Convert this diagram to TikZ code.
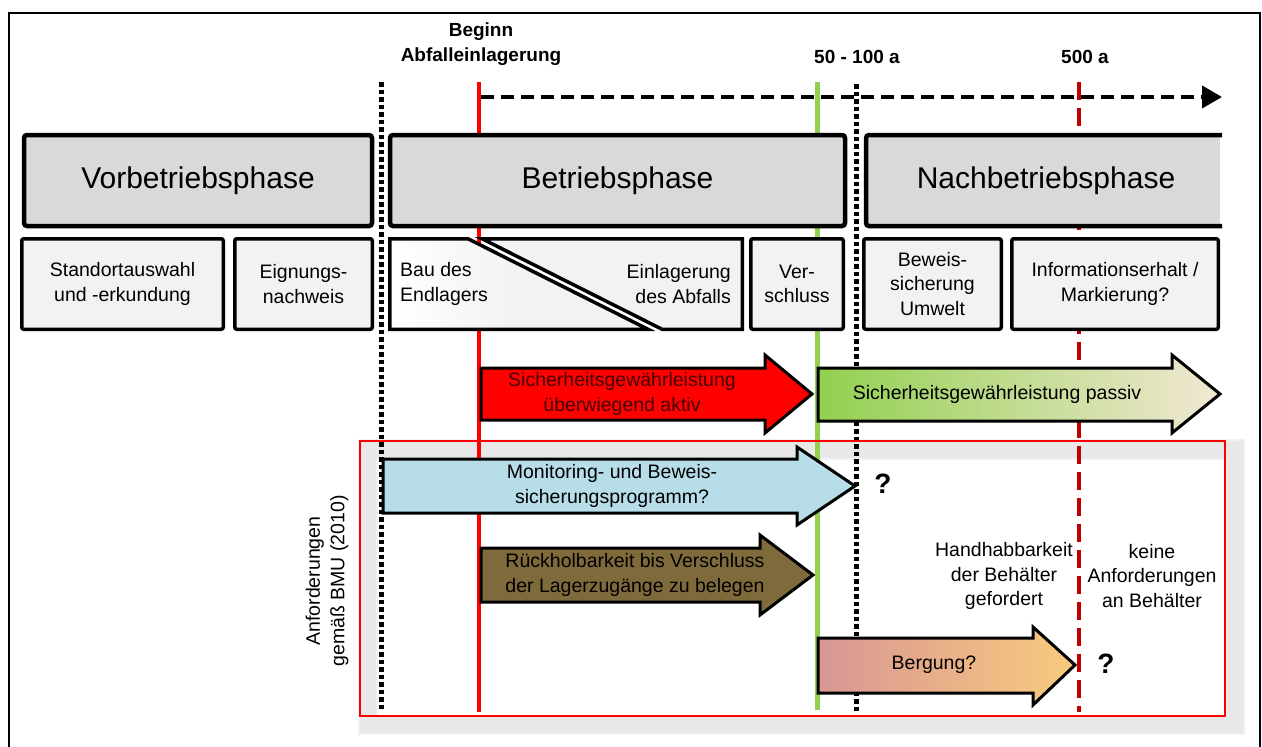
\documentclass[tikz,border=0pt]{standalone}
\usepackage{fontspec}
\setmainfont{Liberation Sans}
\usetikzlibrary{arrows.meta}
\definecolor{phasegray}{RGB}{217,217,217}
\definecolor{subgray}{RGB}{242,242,242}
\definecolor{vgreen}{RGB}{146,208,80}
\definecolor{dred}{RGB}{192,0,0}
\definecolor{cream}{RGB}{242,232,212}
\definecolor{lblue}{RGB}{183,221,232}
\definecolor{olivebrown}{RGB}{127,106,59}
\definecolor{pinkish}{RGB}{217,150,148}
\definecolor{lorange}{RGB}{248,203,125}
\definecolor{shadowgray}{RGB}{232,232,232}
\definecolor{redtext}{RGB}{70,0,0}
\newcommand\fsz[2]{\fontsize{#1}{#2}\selectfont}
\begin{document}
\begin{tikzpicture}[x=1pt,y=-1pt,
  phasebox/.style={draw=black, line width=4.5pt, fill=phasegray, rounded corners=3pt, inner sep=0pt, font=\fsz{30}{36}},
  subbox/.style={draw=black, line width=3.5pt, fill=subgray, rounded corners=2pt, inner sep=0pt, align=center, font=\fsz{19.5}{24.5}},
  bodytext/.style={font=\fsz{19.5}{24.5}, align=center, inner sep=0pt},
  marktext/.style={font=\bfseries\fsz{19}{25}, align=center, inner sep=0pt},
  qmark/.style={font=\bfseries\fsz{28}{30}, inner sep=0pt},
  blockarrow/.style={draw=black, line width=3pt, line join=miter},
  dotline/.style={line width=5pt, dash pattern=on 4.5pt off 3pt},
  redline/.style={red, line width=4pt},
  greenline/.style={vgreen, line width=5pt},
  dredline/.style={dred, line width=4pt, dash pattern=on 18pt off 8pt},
  timeline/.style={line width=4pt, dash pattern=on 13pt off 7pt, -{Triangle[length=20pt,width=22pt]}}
]
\useasboundingbox (0,0) rectangle (1262,747);
% outer frame
\coordinate (fbl) at (9,747);
\coordinate (ftl) at (9,13);
\coordinate (ftr) at (1260,13);
\coordinate (fbr) at (1260,747);
\draw[line width=1.6pt] (fbl) -- (ftl) -- (ftr) -- (fbr);

% soft shadow region
\fill[shadowgray!60] (358,439) rectangle (1245,735);
\fill[shadowgray] (360,441) rectangle (1243,733);
\fill[shadowgray!60] (376,458) rectangle (1227,717);
\fill[white] (378,460) rectangle (1225,715);

% vertical markers
\coordinate (d1t) at (381,82);  \coordinate (d1b) at (381,712);
\coordinate (r1t) at (479,82);  \coordinate (r1b) at (479,712);
\coordinate (g1t) at (817,82);  \coordinate (g1b) at (817,710);
\coordinate (d2t) at (856,84);  \coordinate (d2b) at (856,712);
\coordinate (k1t) at (1079,82); \coordinate (k1b) at (1079,712);
\draw[dotline] (d1t) -- (d1b);
\draw[redline] (r1t) -- (r1b);
\draw[greenline] (g1t) -- (g1b);
\draw[dotline] (d2t) -- (d2b);
\draw[dredline] (k1t) -- (k1b);

% time arrow
\coordinate (tstart) at (481,97);
\coordinate (tend) at (1222,97);
\draw[timeline] (tstart) -- (tend);

% labels
\node[marktext] (beginn) at (481,44.5) {Beginn\\Abfalleinlagerung};
\node[marktext] (t50) at (857,57) {50 - 100 a};
\node[marktext] (t500) at (1085,57) {500 a};

% red frame
\draw[red, line width=1.5pt] (360,441) rectangle (1225,716);

% phase boxes
\node[phasebox, minimum width=348pt, minimum height=91pt] (vor) at (198,180.5) {Vorbetriebsphase};
\node[phasebox, minimum width=455pt, minimum height=91pt] (betr) at (617.5,180.5) {Betriebsphase};
\fill[phasegray] (866,135) rectangle (1220,226);
\draw[line width=4.5pt, rounded corners=3pt] (1222,135) -- (866,135) -- (866,226) -- (1222,226);
\node[font=\fsz{30}{36}, inner sep=0pt] (nach) at (1046,180.5) {Nachbetriebsphase};

% sub boxes
\node[subbox, minimum width=201.5pt, minimum height=90.5pt] (stand) at (122.5,284) {Standortauswahl\\und -erkundung};
\node[subbox, minimum width=137.5pt, minimum height=90.5pt] (eign) at (303.5,284) {Eignungs-\\nachweis};
\draw[line width=3.5pt, line join=miter, left color=white, right color=subgray, middle color=subgray] (389.75,238.75) -- (468,238.75) -- (648,329.25) -- (389.75,329.25) -- cycle;
\draw[line width=3.5pt, line join=miter, fill=subgray] (482,238.75) -- (742.25,238.75) -- (742.25,329.25) -- (662,329.25) -- cycle;
\node[bodytext, anchor=west, align=left] (bau) at (400,284) {Bau des\\Endlagers};
\node[bodytext, anchor=east, align=right] (einl) at (731,284) {Einlagerung\\des Abfalls};
\node[subbox, minimum width=92.5pt, minimum height=90.5pt] (vers) at (797,284) {Ver-\\schluss};
\node[subbox, minimum width=137.5pt, minimum height=90.5pt] (bew) at (932.5,284) {Beweis-\\sicherung\\Umwelt};
\node[subbox, minimum width=206.5pt, minimum height=90.5pt] (info) at (1115,284) {Informationserhalt /\\Markierung?};

% block arrows
\draw[blockarrow, fill=red] (481,368) -- (765,368) -- (765,355) -- (812,394) -- (765,433) -- (765,420) -- (481,420) -- cycle;
\node[bodytext, text=redtext] (aktiv) at (622,394) {Sicherheitsgewährleistung\\überwiegend aktiv};

\draw[blockarrow, left color=vgreen, right color=cream] (818,368) -- (1172,368) -- (1172,355) -- (1220,394) -- (1172,433) -- (1172,421) -- (818,421) -- cycle;
\node[bodytext] (passiv) at (997,394) {Sicherheitsgewährleistung passiv};

\draw[blockarrow, fill=lblue] (383,459) -- (797,459) -- (797,447) -- (855,486) -- (797,525) -- (797,513) -- (383,513) -- cycle;
\node[bodytext] (monit) at (612,486) {Monitoring- und Beweis-\\sicherungsprogramm?};
\node[qmark] (q1) at (883,484) {?};

\draw[blockarrow, fill=olivebrown] (481,548) -- (760,548) -- (760,535) -- (813,575) -- (760,615) -- (760,602) -- (481,602) -- cycle;
\node[bodytext] (rueck) at (635,575) {Rückholbarkeit bis Verschluss\\der Lagerzugänge zu belegen};

\node[bodytext] (handh) at (1004,576) {Handhabbarkeit\\der Behälter\\gefordert};
\node[bodytext] (keine) at (1152,576) {keine\\Anforderungen\\an Behälter};

\draw[blockarrow, left color=pinkish, right color=lorange] (818,638) -- (1033,638) -- (1033,627) -- (1075,665) -- (1033,705) -- (1033,693) -- (818,693) -- cycle;
\node[bodytext] (berg) at (934,665) {Bergung?};
\node[qmark] (q2) at (1106,664) {?};

\node[bodytext, rotate=90] (anf) at (327,581) {Anforderungen\\gemäß BMU (2010)};
\end{tikzpicture}
\end{document}
